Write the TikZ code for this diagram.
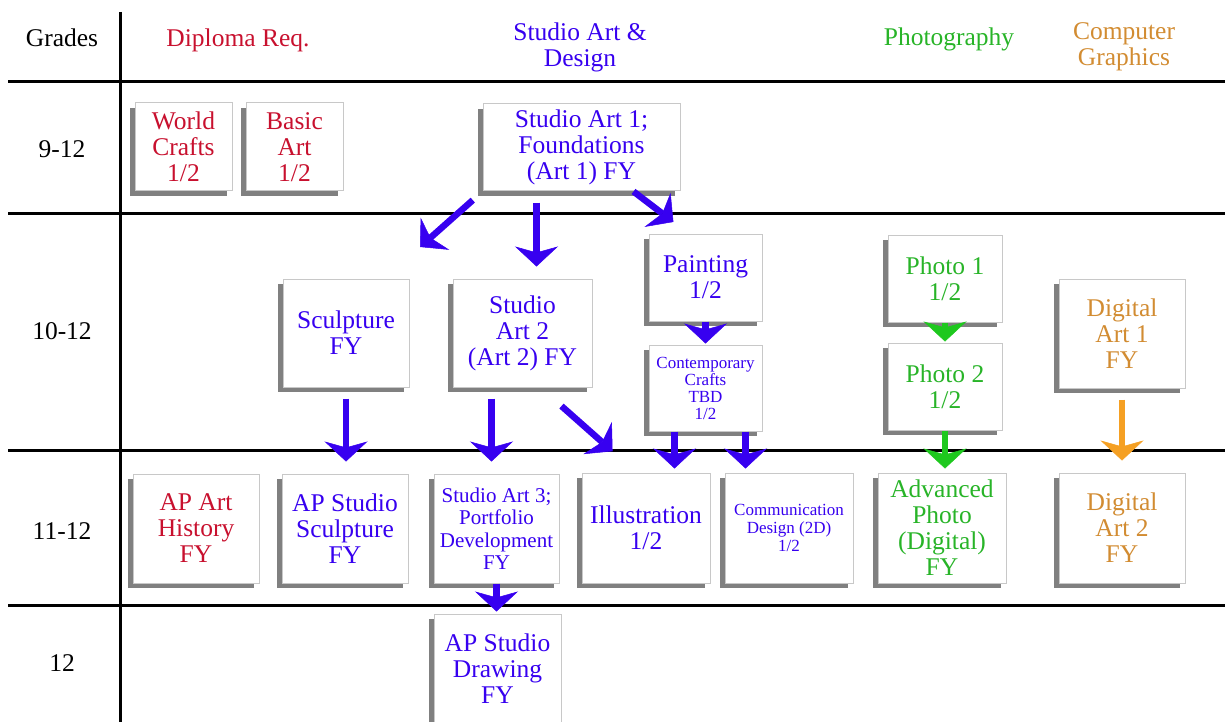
\documentclass[tikz,border=0pt]{standalone}
\usepackage{fontspec}
\setmainfont{Liberation Serif}
\usepackage{tikz}
\usetikzlibrary{shadows, arrows.meta, calc}

\definecolor{diplomared}{RGB}{200,16,46}
\definecolor{studioblue}{RGB}{55,0,240}
\definecolor{photogreen}{RGB}{40,180,40}
\definecolor{arrowgreen}{RGB}{30,200,30}
\definecolor{graphicsorange}{RGB}{210,140,50}
\definecolor{arroworange}{RGB}{245,160,35}
\definecolor{shadowgray}{RGB}{128,128,128}
\definecolor{edgegray}{RGB}{200,200,200}

\newcommand{\coursefont}{\fontsize{25.5}{26}\selectfont}

\begin{document}
\begin{tikzpicture}[
        x=1pt, y=-1pt,
        every node/.style = {
            font=\coursefont,
            align=center,
            inner sep=0pt
        },
        course/.style = {
            draw=edgegray,
            line width=1pt,
            fill=white,
            drop shadow={shadow xshift=-5pt, shadow yshift=-5pt, fill=shadowgray, opacity=1}
        },
        grid line/.style = {line width=3pt, black},
        flow/.style = {
            line width=6.5pt,
            -{Stealth[length=20pt, width=43pt, inset=6pt, line width=0.5pt]}
        },
        gap/.style = {shorten <=11pt, shorten >=12pt}
    ]
    \useasboundingbox (0,0) rectangle (1225,722);
    \clip (0,0) rectangle (1225,722);

    % table lines
    \foreach \y in {82,213,450,605}
        \draw[grid line] (8,\y) -- (1225,\y);
    \draw[grid line] (120,12) -- (120,722);

    % headings
    \node[anchor=base] (grades) at (62,47) {Grades};
    \node[anchor=base, text=diplomared] (diploma) at (238,47) {Diploma Req.};
    \node[text=studioblue] (studio) at (580,47) {Studio Art \&\\Design};
    \node[anchor=base, text=photogreen] (photog) at (949,46) {Photography};
    \node[text=graphicsorange] (graphics) at (1124,47) {Computer\\Graphics};

    \node[anchor=base] (g912) at (62,158) {9-12};
    \node[anchor=base] (g1012) at (62,339) {10-12};
    \node[anchor=base] (g1112) at (62,539) {11-12};
    \node[anchor=base] (g12) at (62,671) {12};

    % courses
    \node[course, text=diplomared, minimum width=97pt, minimum height=88pt] (worldcrafts) at (183.5,147) {World\\Crafts\\1/2};
    \node[course, text=diplomared, minimum width=97pt, minimum height=88pt] (basicart) at (294.5,147) {Basic\\Art\\1/2};
    \node[course, text=studioblue, minimum width=197pt, minimum height=87pt] (art1) at (581.5,147.5) {Studio Art 1;\\Foundations\\(Art 1) FY};

    \node[course, text=studioblue, minimum width=126pt, minimum height=108pt] (sculpt) at (346,333) {Sculpture\\FY};
    \node[course, text=studioblue, minimum width=139pt, minimum height=108pt] (art2) at (522.5,333) {Studio\\Art 2\\(Art 2) FY};
    \node[course, text=studioblue, minimum width=113pt, minimum height=87pt] (paint) at (705.5,277.5) {Painting\\1/2};
    \node[course, text=studioblue, minimum width=113pt, minimum height=86pt, font=\fontsize{17}{17}\selectfont] (crafts) at (705.5,388) {Contemporary\\Crafts\\TBD\\1/2};
    \node[course, text=photogreen, minimum width=114pt, minimum height=87pt] (photo1) at (945,278.5) {Photo 1\\1/2};
    \node[course, text=photogreen, minimum width=114pt, minimum height=87pt] (photo2) at (945,386.5) {Photo 2\\1/2};
    \node[course, text=graphicsorange, minimum width=126pt, minimum height=109pt] (digital1) at (1122,333.5) {Digital\\Art 1\\FY};

    \node[course, text=diplomared, minimum width=126pt, minimum height=109pt] (aphistory) at (196,528.5) {AP Art\\History\\FY};
    \node[course, text=studioblue, minimum width=126pt, minimum height=109pt] (apsculpt) at (345,528.5) {AP Studio\\Sculpture\\FY};
    \node[course, text=studioblue, minimum width=125pt, minimum height=109pt, font=\fontsize{21}{22.5}\selectfont] (art3) at (496.5,528.5) {Studio Art 3;\\Portfolio\\Development\\FY};
    \node[course, text=studioblue, minimum width=128pt, minimum height=110pt] (illus) at (646,528) {Illustration\\1/2};
    \node[course, text=studioblue, minimum width=128pt, minimum height=110pt, font=\fontsize{17}{18}\selectfont] (commdesign) at (789,528) {Communication\\Design (2D)\\1/2};
    \node[course, text=photogreen, minimum width=128pt, minimum height=110pt] (advphoto) at (942,528) {Advanced\\Photo\\(Digital)\\FY};
    \node[course, text=graphicsorange, minimum width=126pt, minimum height=110pt] (digital2) at (1122,528) {Digital\\Art 2\\FY};
    \node[course, text=studioblue, minimum width=127pt, minimum height=109pt] (apdrawing) at (497.5,668.5) {AP Studio\\Drawing\\FY};

    % arrows
    \coordinate (art1out) at (420,247);
    \draw[flow, studioblue, shorten <=13pt] (art1.south west) -- (art1out);
    \draw[flow, studioblue, gap] ($(art1.south)+(-45,0)$) -- ($(art1.south |- art2.north)+(-45,0)$);
    \draw[flow, studioblue, shorten >=19pt] ($(art1.south)+(52,0)$) -- ($(paint.north west)+(40,0)$);
    \draw[flow, studioblue, gap] (sculpt.south) -- (sculpt.south |- apsculpt.north);
    \draw[flow, studioblue, gap] ($(art2.south)+(-31,0)$) -- ($(art2.south |- art3.north)+(-31,0)$);
    \draw[flow, studioblue, shorten <=28pt, shorten >=32pt] ($(art2.south)+(18,0)$) -- ($(illus.north west)+(55,0)$);
    \draw[flow, studioblue, shorten >=1pt] (paint.south) -- (crafts.north);
    \draw[flow, studioblue, shorten >=4pt] ($(crafts.south west)+(26,0)$) -- ($(crafts.south west |- illus.north)+(26,0)$);
    \draw[flow, studioblue, shorten >=4pt] ($(crafts.south east)+(-17,0)$) -- ($(crafts.south east |- commdesign.north)+(-17,0)$);
    \draw[flow, studioblue, shorten >=2pt] (art3.south) -- (art3.south |- apdrawing.north);
    \draw[flow, arrowgreen, shorten >=1pt] (photo1.south) -- (photo2.north);
    \draw[flow, arrowgreen, shorten >=4pt] (photo2.south) -- (photo2.south |- advphoto.north);
    \draw[flow, arroworange, gap] (digital1.south) -- (digital2.north);
\end{tikzpicture}
\end{document}
